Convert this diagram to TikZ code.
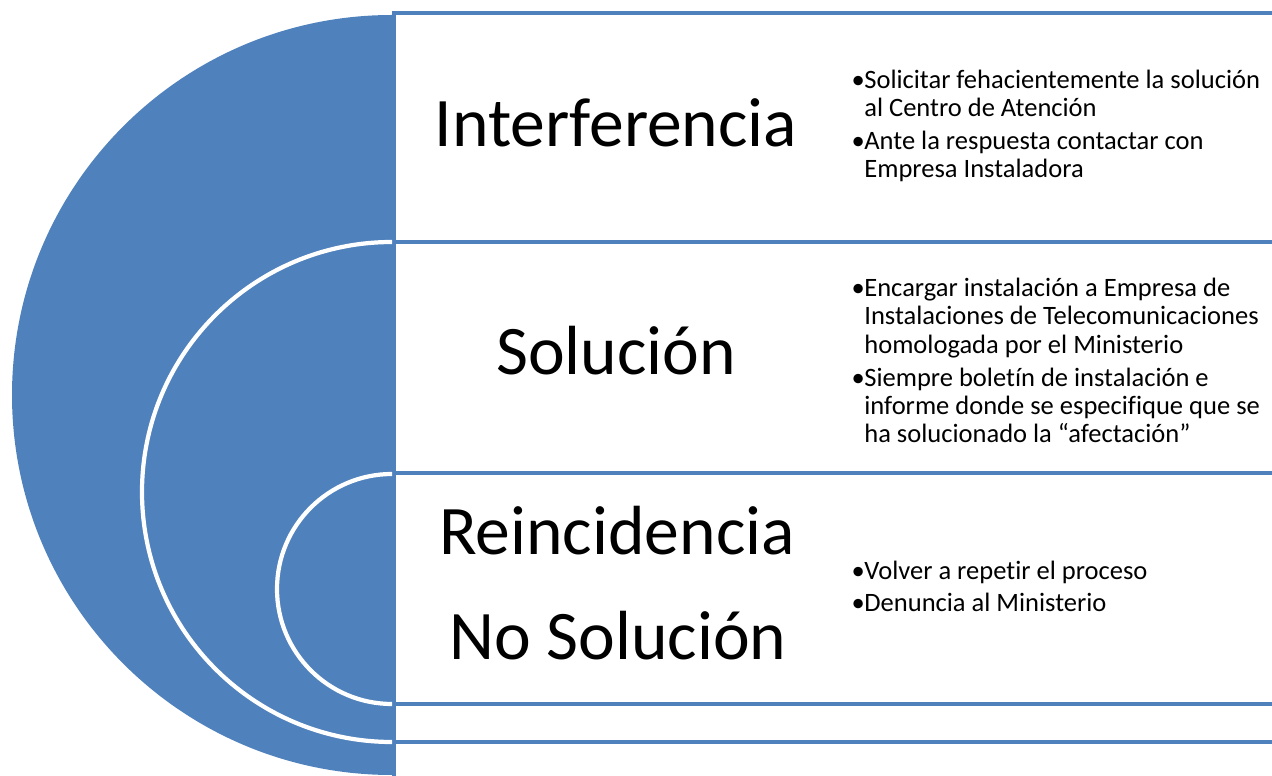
\documentclass[tikz,border=0pt]{standalone}
\usepackage{fontspec}
\setmainfont{Carlito}[Ligatures=NoCommon]
\usepackage{tikz}
\usetikzlibrary{positioning}
\usepackage{xcolor}
\definecolor{Bleuet}{RGB}{79,129,189}
\newcommand{\puce}{\llap{\makebox[7.3pt][l]{•}}}

\begin{document}
\begin{tikzpicture}[x=0.02cm, y=-0.02cm,
  cadre/.style={Bleuet, line width=2.5pt},
  arc blanc/.style={fill=Bleuet, draw=white, line width=2.4pt},
  grand/.style={font=\fontsize{39.6}{59}\selectfont, anchor=base, inner sep=0pt},
  liste/.style={font=\fontsize{15.1}{16.2}\selectfont, align=left, anchor=base west, inner sep=0pt}]
\useasboundingbox (0,0) rectangle (1272,776);
\clip (0,0) rectangle (1272,776);
%
% cadres
\draw[cadre] (1290,13) -- (394,13) -- (394,800);
\foreach \y in {242,473,704,742}
  \draw[cadre] (394,\y) -- (1290,\y);
%
% demi-disque
\begin{scope}
\clip (0,0) rectangle (392,776);
\fill[Bleuet] (392,395) circle[radius=380];
\filldraw[arc blanc] (392,492) circle[radius=250];
\filldraw[arc blanc] (392,589) circle[radius=115];
\end{scope}
%
% titres
\node[grand] (interf) at (616,147) {Interferencia};
\node[grand] (sol) at (616,375) {Solución};
\node[grand] (reinc) at (617,555) {Reincidencia};
\node[grand] (nosol) at (618,660) {No Solución};
%
% listes (ancre sur la derniere ligne)
\node[liste] (pasosA) at (864,178) {\puce Solicitar fehacientemente la solución\\
  al Centro de Atención\\[2.5pt]
  \puce Ante la respuesta contactar con\\
  Empresa Instaladora};
\node[liste] (pasosB) at (864,443) {\puce Encargar instalación a Empresa de\\
  Instalaciones de Telecomunicaciones\\
  homologada por el Ministerio\\[2.5pt]
  \puce Siempre boletín de instalación e\\
  informe donde se especifique que se\\
  ha solucionado la “afectación”};
\node[liste] (pasosC) at (864,612) {\puce Volver a repetir el proceso\\[2.5pt]
  \puce Denuncia al Ministerio};
%
\end{tikzpicture}
\end{document}
